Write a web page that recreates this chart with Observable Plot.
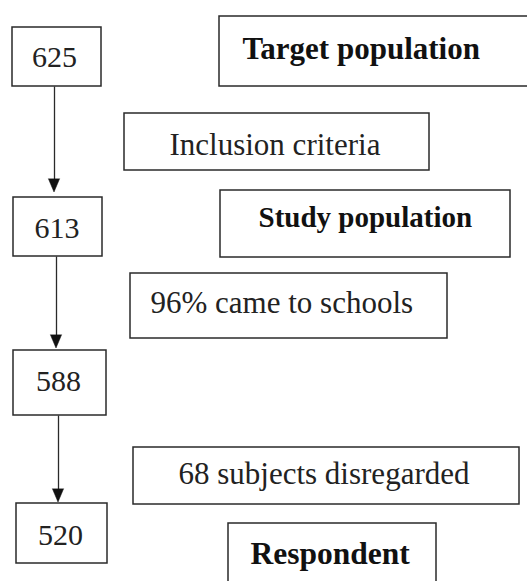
<!DOCTYPE html>
<html>
<head>
<meta charset="utf-8">
<script src="https://cdn.jsdelivr.net/npm/d3@7"></script>
<script src="https://cdn.jsdelivr.net/npm/@observablehq/plot@0.6"></script>
<style>
  html, body { margin: 0; padding: 0; background: #fff; overflow: hidden; }
  #chart svg { overflow: hidden; display: block; }
</style>
</head>
<body>
<div id="chart"></div>
<script>
// ---- data ----
const counts = ["625", "613", "588", "520"];
const stageLabels = ["Target population", "Study population", "Respondent"];
const stepLabels = ["Inclusion criteria", "96% came to schools", "68 subjects disregarded"];

// ---- layout (diagram units = pixels) ----
const countBoxes = [
  {x1: 12, x2: 101, y1: 27, y2: 86, tx: 54, ty: 56.5},
  {x1: 13, x2: 102, y1: 197, y2: 256, tx: 56.5, ty: 228},
  {x1: 13, x2: 106, y1: 350, y2: 415, tx: 58, ty: 381},
  {x1: 16, x2: 107, y1: 503, y2: 563, tx: 60, ty: 534.5}
];
const stageBoxes = [
  {x1: 219, x2: 532, y1: 16, y2: 86, tx: 242, ty: 49, size: 31},
  {x1: 220, x2: 510, y1: 190, y2: 257, tx: 258, ty: 217, size: 29},
  {x1: 228, x2: 436, y1: 523, y2: 590, tx: 250, ty: 553, size: 31.5}
];
const stepBoxes = [
  {x1: 124, x2: 429, y1: 113, y2: 170, tx: 169, ty: 144.5},
  {x1: 130, x2: 447, y1: 273, y2: 338, tx: 150, ty: 303},
  {x1: 133, x2: 519, y1: 447, y2: 504, tx: 178, ty: 474}
];
const arrowsLayout = [
  {id: 0, x: 54, y1: 86, y2: 192},
  {id: 1, x: 56, y1: 256, y2: 348},
  {id: 2, x: 58, y1: 415, y2: 502}
];
const headLen = 13, headHalf = 5.5;

const counted = counts.map((c, i) => ({label: c, ...countBoxes[i]}));
const stages = stageLabels.map((c, i) => ({label: c, ...stageBoxes[i]}));
const steps = stepLabels.map((c, i) => ({label: c, ...stepBoxes[i]}));
const arrows = arrowsLayout;
// arrowhead outline derived from each arrow's tip
const heads = arrows.flatMap(a => [
  {id: a.id, y: a.y2 - headLen, xl: a.x - headHalf, xr: a.x + headHalf},
  {id: a.id, y: a.y2, xl: a.x, xr: a.x}
]);

const ink = "#2a2a2a";
const font = "'Liberation Serif', 'Times New Roman', serif";

const chart = Plot.plot({
  width: 527,
  height: 581,
  margin: 0,
  x: {domain: [0, 527], range: [0, 527], axis: null},
  y: {domain: [0, 581], range: [0, 581], axis: null},
  style: {background: "#fff", fontFamily: font},
  marks: [
    Plot.rect([...counted, ...stages, ...steps], {
      x1: "x1", x2: "x2", y1: "y1", y2: "y2",
      fill: "none", stroke: ink, strokeWidth: 1.5
    }),
    Plot.link(arrows, {
      x1: "x", x2: "x", y1: "y1", y2: d => d.y2 - headLen + 1,
      stroke: ink, strokeWidth: 1.3
    }),
    Plot.areaX(heads, {
      y: "y", x1: "xl", x2: "xr", z: "id",
      fill: "#111", stroke: "#111", strokeWidth: 0.5, curve: "linear"
    }),
    Plot.text(counted, {
      x: "tx", y: "ty", text: "label",
      textAnchor: "middle", fontSize: 30, fill: "#222", fontFamily: font
    }),
    Plot.text(steps, {
      x: "tx", y: "ty", text: "label",
      textAnchor: "start", fontSize: 31, fill: "#222", fontFamily: font
    }),
    Plot.text(stages, {
      x: "tx", y: "ty", text: "label",
      textAnchor: "start", fontSize: d => d.size, fontWeight: "bold",
      fill: "#111", fontFamily: font
    })
  ]
});
document.getElementById("chart").appendChild(chart);
</script>
</body>
</html>
